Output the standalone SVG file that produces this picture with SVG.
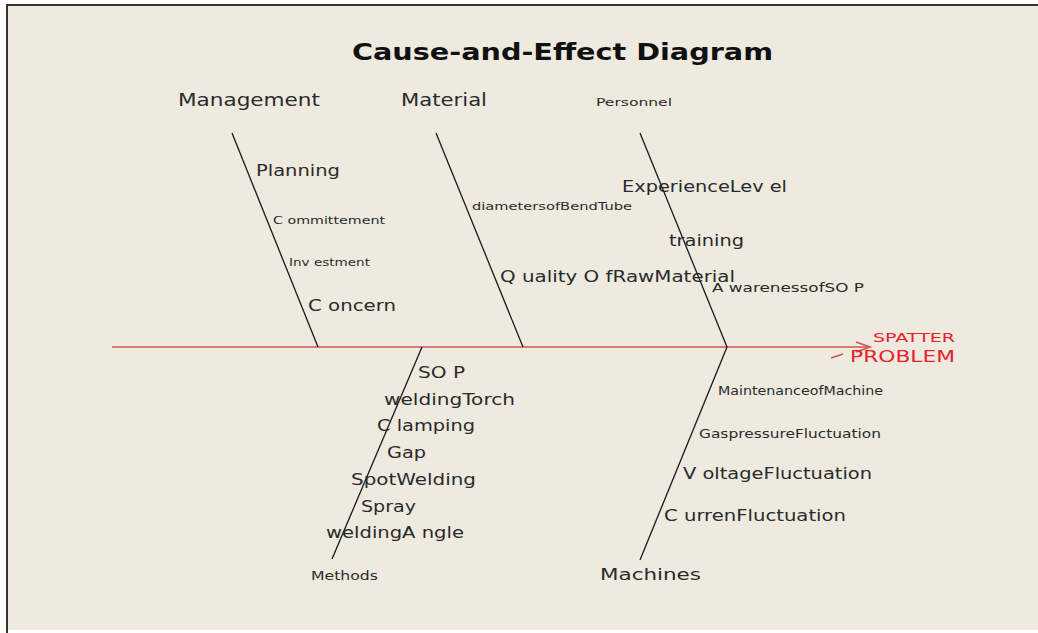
<svg xmlns="http://www.w3.org/2000/svg" width="1038" height="633" viewBox="0 0 1038 633">
<defs>
<style>
.bg{fill:#EEEAE0}
.frame{stroke:#333;stroke-width:2;fill:none}
.bone{stroke:#1a1a1a;stroke-width:1.3;fill:none}
.spine{stroke:#D25555;stroke-width:1.6;fill:none}
text{font-family:"DejaVu Sans",Verdana,sans-serif;fill:#2a2a2a}
.title{font-weight:bold;fill:#111}
.red{fill:#E8202A}
</style>
</defs>
<rect x="0" y="0" width="1038" height="633" fill="#FFFFFF"/>
<rect class="bg" x="7" y="5" width="1031" height="625"/>
<path class="frame" d="M7,633 V5 H1038"/>
<text class="title" x="352" y="60" font-size="23" textLength="421" lengthAdjust="spacingAndGlyphs">Cause-and-Effect Diagram</text>
<g id="connectors">
<line class="spine" x1="112" y1="347" x2="869" y2="347"/>
<path class="spine" d="M856,342 L870,347 L856,352"/>
<path class="spine" d="M831,358 L843,354" stroke-width="2.2"/>
<line class="bone" x1="232" y1="133" x2="318" y2="347"/>
<line class="bone" x1="436" y1="133" x2="523" y2="347"/>
<line class="bone" x1="640" y1="133" x2="727" y2="347"/>
<line class="bone" x1="422" y1="347" x2="332" y2="559"/>
<line class="bone" x1="727" y1="347" x2="640" y2="560"/>
</g>
<g id="effect">
<text class="red" x="873" y="342" font-size="13" textLength="82" lengthAdjust="spacingAndGlyphs">SPATTER</text>
<text class="red" x="850" y="362" font-size="16" textLength="105" lengthAdjust="spacingAndGlyphs">PROBLEM</text>
</g>
<g id="management">
<text x="178" y="106" font-size="17" textLength="142" lengthAdjust="spacingAndGlyphs">Management</text>
<text x="256" y="176" font-size="15" textLength="84" lengthAdjust="spacingAndGlyphs">Planning</text>
<text x="273" y="224" font-size="11" textLength="112" lengthAdjust="spacingAndGlyphs">C ommittement</text>
<text x="289" y="266" font-size="10" textLength="81" lengthAdjust="spacingAndGlyphs">Inv estment</text>
<text x="308" y="311" font-size="16" textLength="88" lengthAdjust="spacingAndGlyphs">C oncern</text>
</g>
<g id="material">
<text x="401" y="106" font-size="17" textLength="86" lengthAdjust="spacingAndGlyphs">Material</text>
<text x="472" y="210" font-size="10" textLength="160" lengthAdjust="spacingAndGlyphs">diametersofBendTube</text>
<text x="500" y="282" font-size="16" textLength="235" lengthAdjust="spacingAndGlyphs">Q uality O fRawMaterial</text>
</g>
<g id="personnel">
<text x="596" y="106" font-size="11" textLength="76" lengthAdjust="spacingAndGlyphs">Personnel</text>
<text x="622" y="192" font-size="15" textLength="165" lengthAdjust="spacingAndGlyphs">ExperienceLev el</text>
<text x="669" y="246" font-size="15" textLength="75" lengthAdjust="spacingAndGlyphs">training</text>
<text x="712" y="292" font-size="12" textLength="152" lengthAdjust="spacingAndGlyphs">A warenessofSO P</text>
</g>
<g id="methods">
<text x="418" y="378" font-size="15" textLength="47" lengthAdjust="spacingAndGlyphs">SO P</text>
<text x="384" y="405" font-size="15" textLength="131" lengthAdjust="spacingAndGlyphs">weldingTorch</text>
<text x="377" y="431" font-size="15" textLength="98" lengthAdjust="spacingAndGlyphs">C lamping</text>
<text x="387" y="458" font-size="15" textLength="39" lengthAdjust="spacingAndGlyphs">Gap</text>
<text x="351" y="485" font-size="15" textLength="125" lengthAdjust="spacingAndGlyphs">SpotWelding</text>
<text x="361" y="512" font-size="15" textLength="55" lengthAdjust="spacingAndGlyphs">Spray</text>
<text x="326" y="538" font-size="15" textLength="138" lengthAdjust="spacingAndGlyphs">weldingA ngle</text>
<text x="311" y="580" font-size="13" textLength="67" lengthAdjust="spacingAndGlyphs">Methods</text>
</g>
<g id="machines">
<text x="718" y="395" font-size="12" textLength="165" lengthAdjust="spacingAndGlyphs">MaintenanceofMachine</text>
<text x="699" y="438" font-size="12" textLength="182" lengthAdjust="spacingAndGlyphs">GaspressureFluctuation</text>
<text x="683" y="479" font-size="15" textLength="189" lengthAdjust="spacingAndGlyphs">V oltageFluctuation</text>
<text x="664" y="521" font-size="15" textLength="182" lengthAdjust="spacingAndGlyphs">C urrenFluctuation</text>
<text x="600" y="580" font-size="16" textLength="101" lengthAdjust="spacingAndGlyphs">Machines</text>
</g>
</svg>
